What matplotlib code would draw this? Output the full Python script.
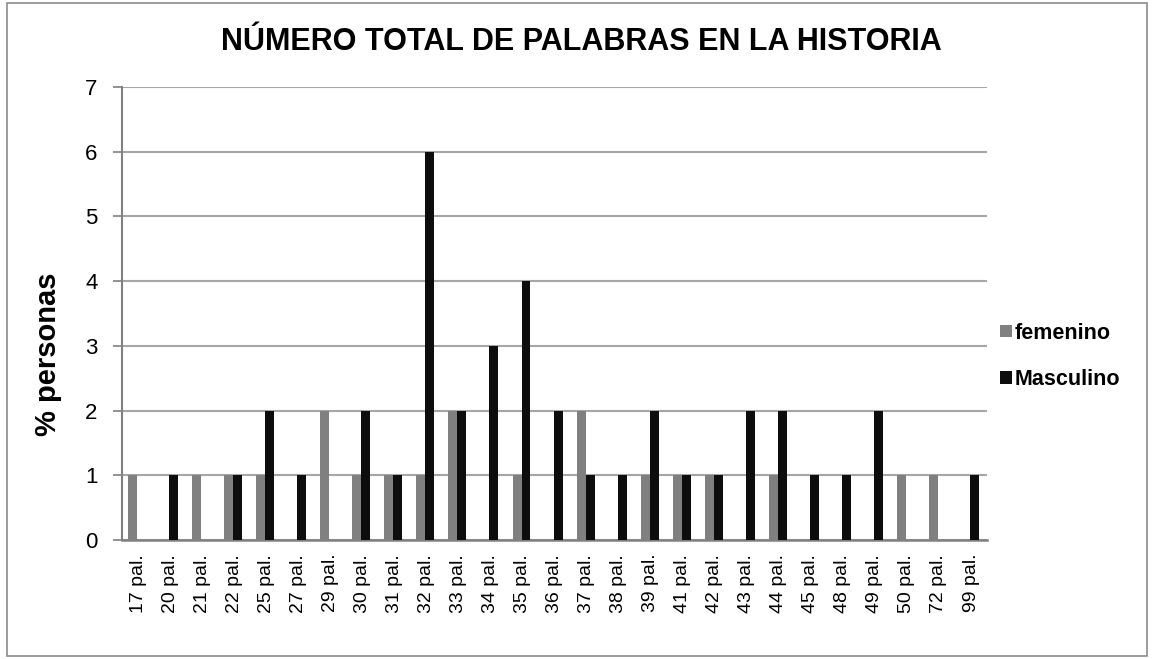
import matplotlib
matplotlib.use('Agg')

import matplotlib.pyplot as plt
import matplotlib.patches as mpatches
import matplotlib.transforms as mtransforms
import numpy as np

plt.rcParams['font.family'] = ['Liberation Sans', 'DejaVu Sans']

# data
categorias = ["17 pal.", "20 pal.", "21 pal.", "22 pal.", "25 pal.", "27 pal.", "29 pal.",
              "30 pal.", "31 pal.", "32 pal.", "33 pal.", "34 pal.", "35 pal.", "36 pal.",
              "37 pal.", "38 pal.", "39 pal.", "41 pal.", "42 pal.", "43 pal.", "44 pal.",
              "45 pal.", "48 pal.", "49 pal.", "50 pal.", "72 pal.", "99 pal."]
femenino = [1, 0, 1, 1, 1, 0, 2, 1, 1, 1, 2, 0, 1, 0, 2, 0, 1, 1, 1, 0, 1, 0, 0, 0, 1, 1, 0]
masculino = [0, 1, 0, 1, 2, 1, 0, 2, 1, 6, 2, 3, 4, 2, 1, 1, 2, 1, 1, 2, 2, 1, 1, 2, 0, 0, 1]
y_ticks = [0, 1, 2, 3, 4, 5, 6, 7]

fig = plt.figure(figsize=(11.52, 6.59), dpi=100)
ax = fig.add_axes([0.1059, 0.1806, 0.7509, 0.6874])

x = np.arange(len(categorias))
w = 0.28
ax.bar(x - w / 2 - 0.03, femenino, width=w, color='#808080', label='femenino', zorder=3)
ax.bar(x + w / 2 - 0.03, masculino, width=w, color='#0d0d0d', label='Masculino', zorder=3)

ax.set_xlim(-0.5, len(categorias) - 0.5)
ax.set_ylim(0, 7)
ax.set_yticks(y_ticks)
ax.set_yticklabels([str(v) for v in y_ticks], fontsize=16)
ax.set_xticks(x)
ax.set_xticklabels(categorias, rotation=90, fontsize=14, va='top')

# "34 pal." sits a bit lower in the original
lbl = ax.get_xticklabels()[11]
lbl.set_transform(lbl.get_transform() + mtransforms.ScaledTranslation(0, -0.14, fig.dpi_scale_trans))

ax.tick_params(axis='y', length=6.5, width=1.2, color='#808080', pad=11, direction='out')
ax.tick_params(axis='x', length=0, pad=10)

ax.yaxis.grid(True, color='#a6a6a6', linewidth=1.5, zorder=0)
ax.set_axisbelow(True)
for s in ['top', 'right']:
    ax.spines[s].set_visible(False)
ax.spines['left'].set_color('#808080')
ax.spines['left'].set_linewidth(1.5)
ax.spines['bottom'].set_color('#808080')
ax.spines['bottom'].set_linewidth(1.8)

fig.text(0.042, 0.462, '% personas', rotation=90, ha='center', va='center',
         fontsize=21, fontweight='bold')
fig.text(0.505, 0.924, 'NÚMERO TOTAL DE PALABRAS EN LA HISTORIA',
         ha='center', va='baseline', fontsize=22, fontweight='bold')

leg = ax.legend(loc='center left', bbox_to_anchor=(1.005, 0.405), frameon=False,
                fontsize=15.5, handlelength=0.55, handleheight=0.55, handletextpad=0.15,
                labelspacing=1.2, borderaxespad=0)
for t in leg.get_texts():
    t.set_fontweight('bold')

# chart area border
fig.patches.append(mpatches.Rectangle((0.006, 0.005), 0.99, 0.99, transform=fig.transFigure,
                                      fill=False, edgecolor='#8c8c8c', linewidth=1.2))

plt.savefig('out.png', dpi=100)
